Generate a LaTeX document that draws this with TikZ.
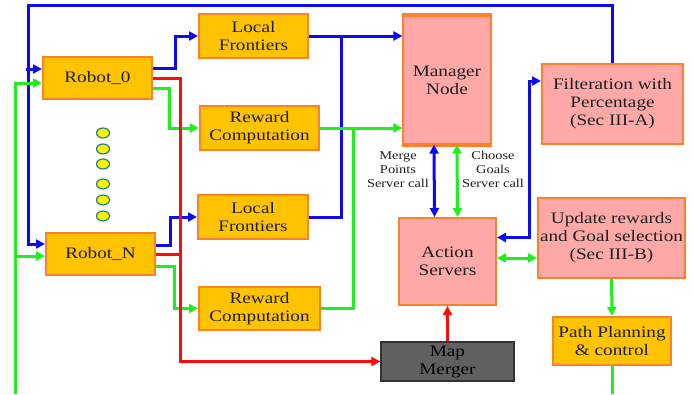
\documentclass[tikz,border=0pt]{standalone}
\usepackage{fontspec}
\setmainfont{Liberation Serif}[FakeStretch=1.2]
\usetikzlibrary{arrows.meta,calc,shapes.geometric}
\definecolor{boxor}{RGB}{255,195,0}
\definecolor{bordor}{RGB}{255,128,40}
\definecolor{pinkf}{RGB}{255,168,168}
\definecolor{cblue}{RGB}{10,10,245}
\definecolor{cgreen}{RGB}{30,240,30}
\definecolor{cred}{RGB}{255,10,10}
\definecolor{mgray}{RGB}{96,96,96}
\definecolor{teal2}{RGB}{30,130,140}
\definecolor{txt}{RGB}{30,30,30}
\tikzset{
  base/.style={align=center, inner sep=0pt, text=txt, font=\fontsize{16}{18}\selectfont},
  obox/.style={base, fill=boxor, draw=bordor, line width=2pt},
  pbox/.style={base, fill=pinkf, draw=bordor, line width=2pt},
  gbox/.style={base, fill=mgray, draw=black!80, line width=1.2pt, text=black},
  conn/.style={line width=3pt, -{Triangle[length=9pt,width=9pt]}},
  dconn/.style={line width=3pt, {Triangle[length=9pt,width=9pt]}-{Triangle[length=9pt,width=9pt]}},
  plain/.style={line width=3pt},
  dot/.style={ellipse, fill=yellow, draw=teal2, line width=1.2pt, minimum width=13pt, minimum height=10pt, inner sep=0pt},
  lbl/.style={align=center, inner sep=0pt, text=txt, font=\fontsize{12}{14}\selectfont}
}
\begin{document}
\begin{tikzpicture}[x=1pt,y=-1pt]
\useasboundingbox (0,0) rectangle (694,394);
% nodes
\node[obox, minimum width=109pt, minimum height=42pt] (r0) at (97.5,78) {Robot\_0};
\node[obox, minimum width=109pt, minimum height=42pt] (rN) at (100.5,254) {Robot\_N};
\node[obox, minimum width=109pt, minimum height=44pt] (lf1) at (253.5,36) {Local\\Frontiers};
\node[obox, minimum width=119pt, minimum height=44pt] (rc1) at (259.5,128) {Reward\\Computation};
\node[obox, minimum width=110pt, minimum height=44pt] (lf2) at (253,217) {Local\\Frontiers};
\node[obox, minimum width=121pt, minimum height=43pt] (rc2) at (259.5,308.5) {Reward\\Computation};
\node[pbox, line width=1.2pt, minimum width=88pt, minimum height=128pt] (mgr) at (447,80) {Manager\\Node};
\draw[bordor, line width=4pt] (mgr.north west) -- (mgr.north east);
\draw[bordor, line width=4pt] (mgr.south west) -- (mgr.south east);
\node[pbox, minimum width=141pt, minimum height=80pt] (filt) at (612.5,104) {Filteration with\\Percentage\\(Sec III-A)};
\node[pbox, minimum width=97pt, minimum height=87pt] (act) at (447.5,261.5) {Action\\Servers};
\node[pbox, minimum width=147pt, minimum height=80pt] (upd) at (611.5,238) {Update rewards\\and Goal selection\\(Sec III-B)};
\node[obox, minimum width=118pt, minimum height=48pt] (path) at (612,341) {Path Planning\\\& control};
\node[gbox, minimum width=133pt, minimum height=39pt] (map) at (447.5,361.5) {Map\\Merger};
% dots
\foreach \yy [count=\i] in {133,149,164,184,200,216} \node[dot] (d\i) at (103,\yy) {};
% labels
\node[lbl] (lm) at (398,170) {Merge\\Points\\Server call};
\node[lbl] (lc) at (493,169) {Choose\\Goals\\Server call};
% coordinates
\coordinate (btop) at (28,5);
\coordinate (gbot) at (15,394);
\coordinate (pbot) at (612,394);
\coordinate (ga) at ($(act.east)+(0,-3.5)$);
% blue
\draw[conn, cblue] ($(r0.east)+(0,-10)$) -- ++(22,0) |- (lf1.west);
\draw[conn, cblue] ($(rN.east)+(0,-9)$) -- ++(14,0) |- (lf2.west);
\draw[conn, cblue] (lf1.east) -- (lf1.east -| mgr.west);
\draw[plain, cblue] (lf2.east) -| (341,36);
\draw[conn, cblue] (filt.north) |- (btop) |- ($(rN.west)+(0,-10)$);
\draw[conn, cblue] ($(r0.west)+(-16,-9)$) -- ($(r0.west)+(0,-9)$);
\draw[dconn, cblue] ($(mgr.south)+(-13,0)$) -- ($(act.north)+(-13,0)$);
\draw[dconn, cblue] ($(act.east)+(0,-24)$) -- (529,237.5) |- ($(filt.west)+(0,-23)$);
% green
\draw[conn, cgreen] ($(r0.east)+(0,10)$) -- ++(16,0) |- (rc1.west);
\draw[conn, cgreen] ($(rN.east)+(0,12)$) -- ++(18,0) |- (rc2.west);
\draw[conn, cgreen] (rc1.east) -- (rc1.east -| mgr.west);
\draw[plain, cgreen] (rc2.east) -| (353,128);
\draw[conn, cgreen] (gbot) |- ($(r0.west)+(0,5)$);
\draw[conn, cgreen] ($(rN.west)+(-31,2)$) -- ($(rN.west)+(0,2)$);
\draw[dconn, cgreen] ($(mgr.south)+(10,0)$) -- ($(act.north)+(10,0)$);
\draw[dconn, cgreen] (ga) -- (ga -| upd.west);
\draw[conn, cgreen] (upd.south) -- (path.north);
\draw[plain, cgreen] (path.south) -- (pbot);
% red
\draw[conn, cred] (r0.east) -- (180,78) |- (map.west);
\draw[plain, cred] (rN.east) -- (180,254);
\draw[conn, cred] (map.north) -- (act.south);
\end{tikzpicture}
\end{document}
